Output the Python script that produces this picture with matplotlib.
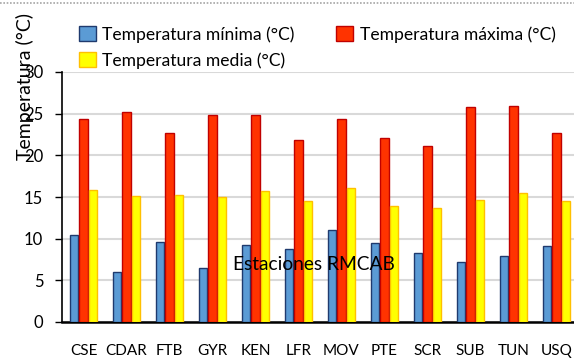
import numpy as np
import matplotlib
matplotlib.use("Agg")
import matplotlib.pyplot as plt
from matplotlib.lines import Line2D
from matplotlib.patches import Patch

plt.rcParams['font.family'] = ['Lato', 'DejaVu Sans']

estaciones = ["CSE", "CDAR", "FTB", "GYR", "KEN", "LFR", "MOV", "PTE",
              "SCR", "SUB", "TUN", "USQ"]
t_min = [10.4, 6.0, 9.6, 6.5, 9.3, 8.8, 11.0, 9.5, 8.3, 7.2, 7.9, 9.1]
t_max = [24.4, 25.2, 22.7, 24.8, 24.9, 21.9, 24.3, 22.1, 21.1, 25.8, 25.9, 22.7]
t_med = [15.8, 15.1, 15.3, 15.0, 15.7, 14.5, 16.1, 13.9, 13.7, 14.7, 15.5, 14.5]

W, H = 574, 360
fig = plt.figure(figsize=(W / 100, H / 100), dpi=100)

# axes placed in pixel terms; right side runs a bit past the image edge
ax = fig.add_axes([62 / W, 1 - 322 / H, 516 / W, 250 / H])

x = np.arange(len(estaciones))
bw = 0.195
off = 0.22
ax.bar(x - off, t_min, bw, color='#5B9BD5', edgecolor='#1F3A6E', linewidth=1.0, zorder=3)
ax.bar(x, t_max, bw, color='#FF3300', edgecolor='#C00000', linewidth=1.0, zorder=3)
ax.bar(x + off, t_med, bw, color='#FFFF00', edgecolor='#FFC000', linewidth=1.0, zorder=3)

ax.set_xlim(-0.5, len(estaciones) - 0.5)
ax.set_ylim(0, 30)
ax.set_yticks(range(0, 31, 5))
ax.yaxis.grid(True, color='#D9D9D9', linewidth=1.5, zorder=0)
ax.set_axisbelow(True)

for s in ['top', 'right']:
    ax.spines[s].set_visible(False)
ax.spines['left'].set_linewidth(1.2)
ax.spines['bottom'].set_linewidth(1.8)

ax.tick_params(axis='y', direction='out', length=5, width=1, pad=8.5, labelsize=12)
ax.set_xticks(x)
ax.set_xticklabels(estaciones)
ax.tick_params(axis='x', length=0, pad=16, labelsize=11)

# texts placed like the original (x title sits inside the plot)
fig.text(314 / W, 1 - 265 / H, "Estaciones RMCAB", ha='center', va='center', fontsize=13.8)
fig.text(25 / W, 1 - 87 / H, "Temperatura (°C)", rotation=90, ha='center', va='center', fontsize=14)

handles = [Patch(facecolor='#5B9BD5', edgecolor='#1F3A6E'),
           Patch(facecolor='#FFFF00', edgecolor='#FFC000'),
           Patch(facecolor='#FF3300', edgecolor='#C00000')]
labels = ["Temperatura mínima (°C)", "Temperatura media (°C)", "Temperatura máxima (°C)"]
fig.legend(handles, labels, ncol=2, loc='upper left', bbox_to_anchor=(79 / W, 1 - 26 / H),
           frameon=False, fontsize=12.6, handlelength=0.97, handleheight=0.95,
           handletextpad=0.35, columnspacing=2.4, labelspacing=0.55,
           borderpad=0, borderaxespad=0)

# dotted border at top of image
fig.add_artist(Line2D([0, 1], [1 - 3 / H, 1 - 3 / H], color='#A6A6A6', linewidth=1.2,
                      linestyle=(0, (1, 1)), transform=fig.transFigure))

fig.savefig("out.png", dpi=100)
